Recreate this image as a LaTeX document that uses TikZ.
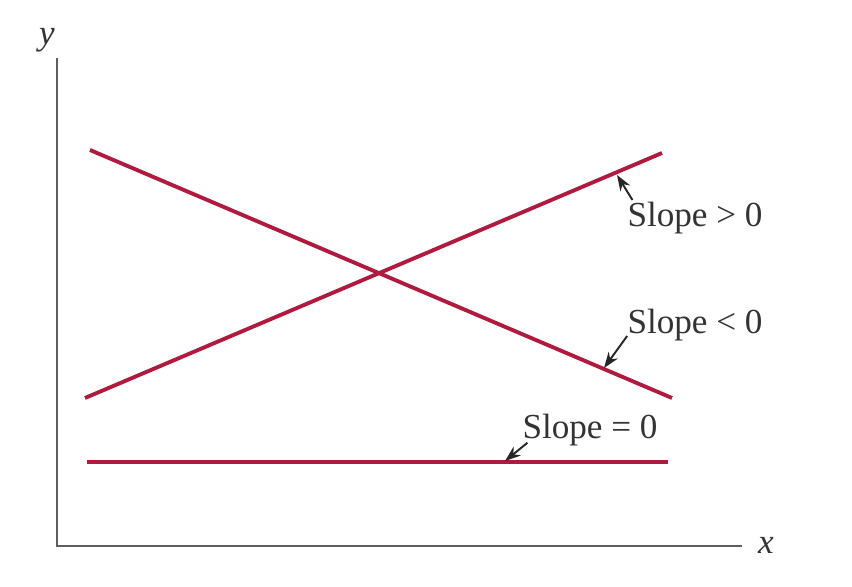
\documentclass[tikz,border=0pt]{standalone}
\usepackage{fontspec}
\setmainfont{Liberation Serif}
\usetikzlibrary{arrows.meta}

\definecolor{slopered}{RGB}{176,26,62}
\definecolor{axisgray}{RGB}{95,95,95}

\tikzset{
  axisline/.style={draw=axisgray, line width=1.2pt},
  slopeline/.style={draw=slopered, line width=2.2pt},
  lbl/.style={inner sep=0pt, text=black!80, font=\fontsize{20}{24}\selectfont},
  ptr/.style={-{Stealth[length=9pt,width=6.5pt]}, line width=1.1pt, black!85},
}

\begin{document}
\begin{tikzpicture}[x=0.02cm,y=-0.02cm]
  \useasboundingbox (0,0) rectangle (852,587);

  % axes
  \coordinate (o) at (57,546);
  \coordinate (ytop) at (57,58);
  \coordinate (xend) at (742,546);
  \draw[axisline] (ytop) -- (o) -- (xend);
  \node[lbl, font=\fontsize{20}{24}\selectfont\itshape] (ylab) at (47,40) {y};
  \node[lbl, font=\fontsize{20}{24}\selectfont\itshape] (xlab) at (766,545) {x};

  % the three lines
  \coordinate (d1) at (90,150);
  \coordinate (d2) at (672,398);
  \coordinate (u1) at (85,398);
  \coordinate (u2) at (662,153);
  \coordinate (h1) at (87,462);
  \coordinate (h2) at (668,462);
  \draw[slopeline] (d1) -- (d2);
  \draw[slopeline] (u1) -- (u2);
  \draw[slopeline] (h1) -- (h2);

  % labels
  \node[lbl] (pos) at (695,218) {Slope > 0};
  \node[lbl] (neg) at (695,325) {Slope < 0};
  \node[lbl] (zero) at (590,430) {Slope = 0};

  \coordinate (postip) at (617,175);
  \coordinate (negtip) at (604,368);
  \coordinate (zerotip) at (505,461);
  \draw[ptr] ([xshift=3pt,yshift=1pt]pos.north west) -- (postip);
  \draw[ptr] ([yshift=3pt]neg.south west) -- (negtip);
  \draw[ptr] ([xshift=3pt,yshift=2pt]zero.south west) -- (zerotip);
\end{tikzpicture}
\end{document}
